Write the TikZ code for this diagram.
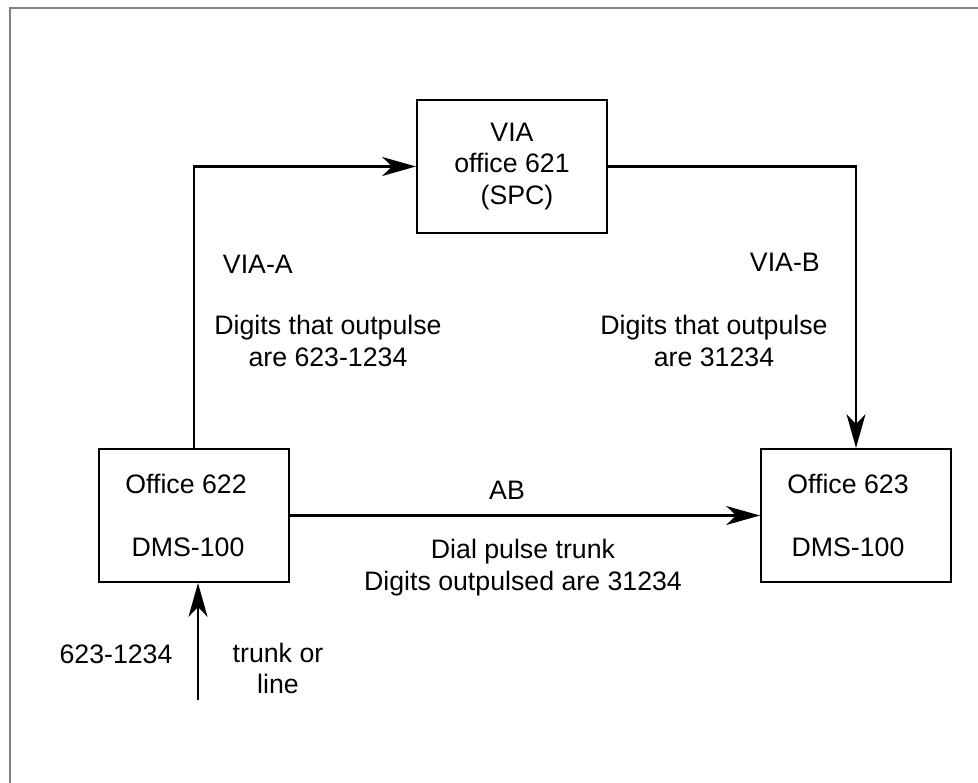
\documentclass[tikz,border=0pt]{standalone}
\usepackage{fontspec}
\setmainfont{Liberation Sans}
\usetikzlibrary{arrows.meta}

\begin{document}
\begin{tikzpicture}[>={Stealth[length=24pt, width=13.5pt, inset=7pt]},
  font=\fontsize{19}{22.4}\selectfont,
  office/.style={draw, line width=1.5pt, minimum width=4.75cm, minimum height=3.325cm, align=center, inner sep=0pt},
  link/.style={->, line width=1.5pt},
  note/.style={align=center}]
  \useasboundingbox (0,0) rectangle (24.45,19.575);
  % page frame: only its top and left edges show
  \draw[gray, line width=1.5pt] (0.25,0) -- (0.25,19.375) -- (24.45,19.375);
  % ---------------------------------------------------------------- the three offices
  \node[office] (via) at (12.8,15.4125) {VIA\\office 621\\\hspace*{0.25cm}(SPC)};
  \node[office] (o622) at (4.85,6.6875) {Office 622\hspace*{0.4cm}\\[22.6pt]DMS-100\hspace*{0.3cm}};
  \node[office] (o623) at (21.4,6.6875) {Office 623\hspace*{0.4cm}\\[22.6pt]DMS-100\hspace*{0.4cm}};
  % ---------------------------------------------------------------- routes
  \draw[link] (o622.north) |- (via.west);
  \draw[link] (via.east) -| (o623.north);
  \draw[link] (o622.east) -- (o623.west);
  % incoming call
  \coordinate (feed) at (4.95,2.075);
  \draw[link] (feed) -- (feed |- o622.south);
  % ---------------------------------------------------------------- labels
  \node[anchor=west] (viaA) at (5.45,12.975) {VIA-A};
  \node[note] (viaAdigits) at (8.2,11.05) {Digits that outpulse\\are 623-1234};
  \node[anchor=west] (viaB) at (18.625,13.025) {VIA-B};
  \node[note] (viaBdigits) at (17.85,11.05) {Digits that outpulse\\are 31234};
  \node (ab) at (12.675,7.325) {AB};
  \node[note] (abdigits) at (13.075,5.3875) {Dial pulse trunk\\Digits outpulsed are 31234};
  \node (dialled) at (2.9,3.225) {623-1234};
  \node[note] (feedkind) at (6.95,2.8625) {trunk or\\line};
\end{tikzpicture}
\end{document}
